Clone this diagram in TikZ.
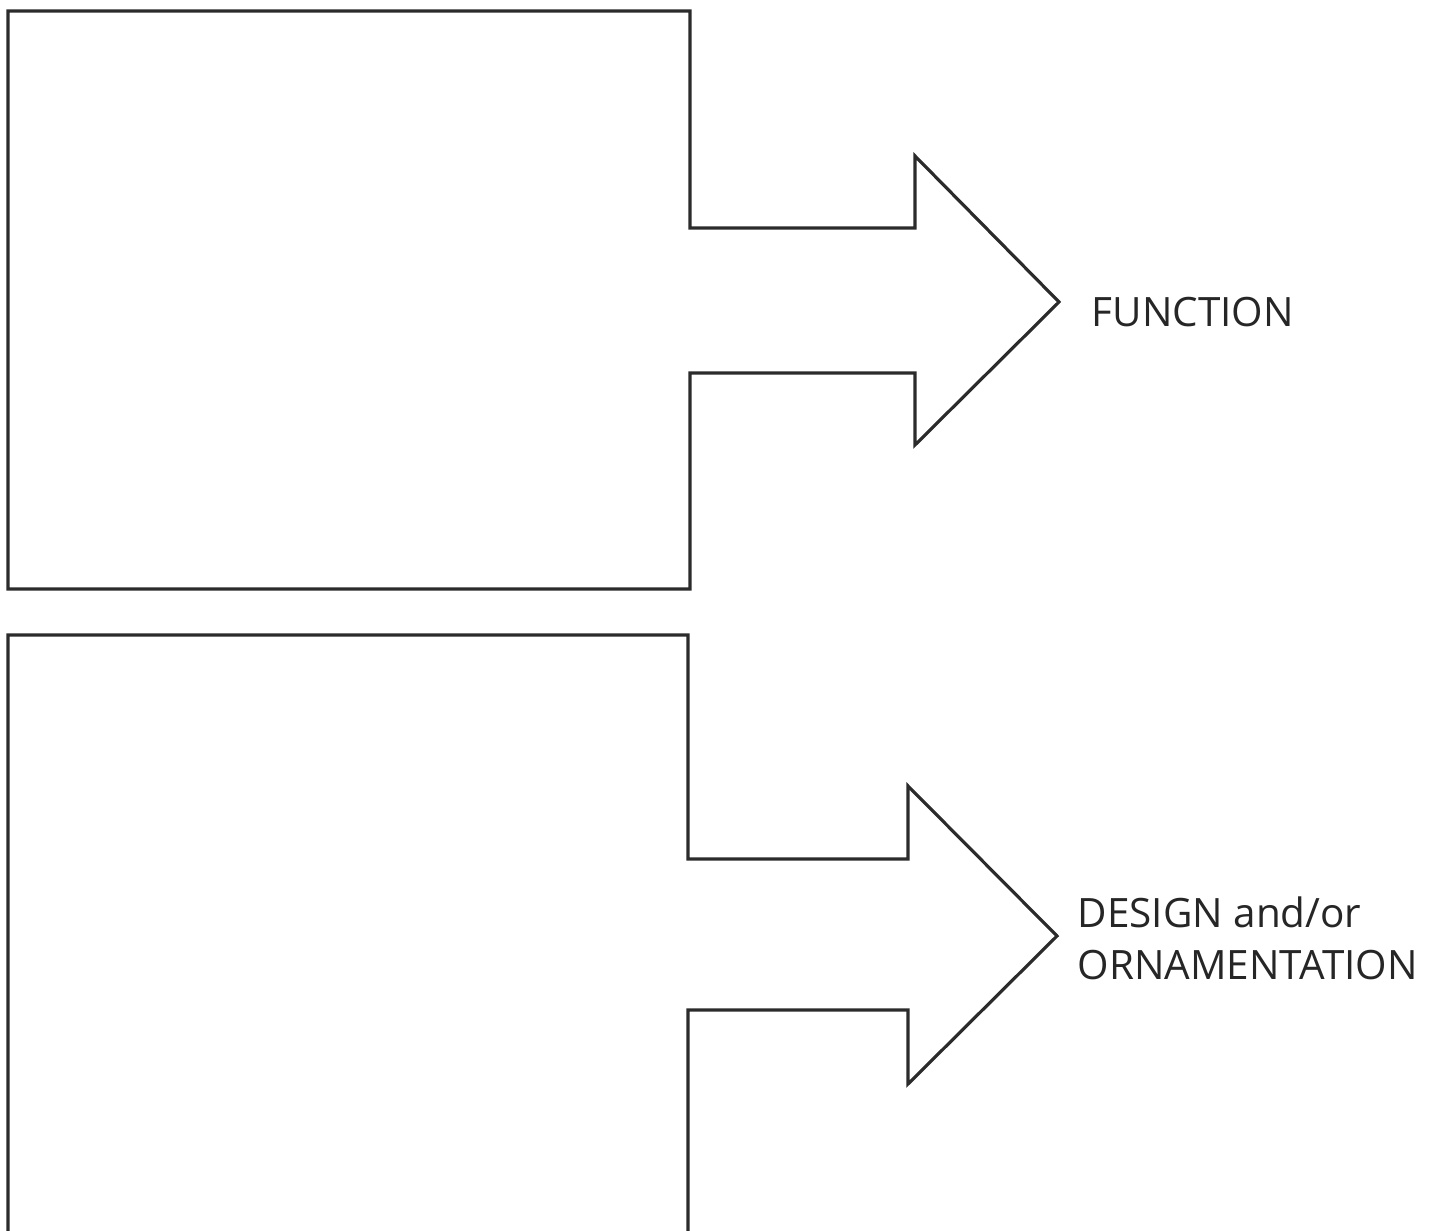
\documentclass[tikz,border=0pt]{standalone}
\usepackage{fontspec}
\setmainfont{Open Sans}
\usepackage{xcolor}
\usepackage{tikz}
\definecolor{outline}{HTML}{2B2B2B}

\begin{document}
\begin{tikzpicture}[
    x=0.01cm, y=-0.01cm,
    blockarrow/.style={draw=outline, line width=0.9pt, line join=miter},
    label/.style={anchor=base west, inner sep=0pt, align=left, text=black!85,
      font=\fontsize{11.5pt}{14.8pt}\selectfont}
  ]

    \useasboundingbox (0,0) rectangle (1445,1231);

    % upper block with arrow
    \draw[blockarrow] (8,11) -- (690,11) -- (690,228) -- (915,228) -- (915,156)
      -- (1059,302) -- (915,445) -- (915,373) -- (690,373) -- (690,589)
      -- (8,589) -- cycle;
    \node[label] (function) at (1091,327) {FUNCTION};

    % lower block with arrow, runs off the page
    \begin{scope}
      \clip (0,0) rectangle (1445,1231);
      \draw[blockarrow] (8,1240) -- (8,635) -- (688,635) -- (688,859) -- (908,859)
        -- (908,786) -- (1057,936) -- (908,1084) -- (908,1010) -- (688,1010)
        -- (688,1240);
    \end{scope}
    \node[label] (design) at (1077,980) {DESIGN and/or\\ORNAMENTATION};

  \end{tikzpicture}
\end{document}
